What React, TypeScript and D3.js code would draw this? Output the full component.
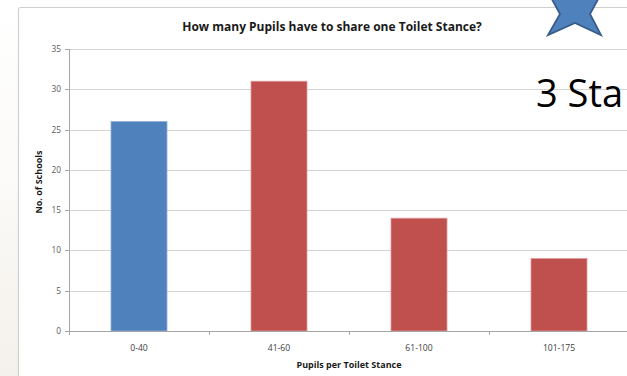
import React from "react";
import * as d3 from "d3";

const categories = ["0-40", "41-60", "61-100", "101-175"];
const schools = [26, 31, 14, 9];
const barColors = ["#4f81bd", "#c0504d", "#c0504d", "#c0504d"];
const yTicks = [0, 5, 10, 15, 20, 25, 30, 35];
const title = "How many Pupils have to share one Toilet Stance?";
const xTitle = "Pupils per Toilet Stance";
const yTitle = "No. of Schools";
const sideText = "3 Sta";

const W = 627;
const H = 376;
const FONT = "'Open Sans', 'DejaVu Sans', sans-serif";

export default function App() {
  const x = d3.scaleBand<string>().domain(categories).range([69, 629]).padding(0);
  const y = d3.scaleLinear().domain([0, 35]).range([331, 49]);
  const barW = x.bandwidth() / 2.5;

  // decorative star (partially cropped at top)
  const scx = 575;
  const starPts: [number, number][] = [
    [scx - 27, -8],
    [scx - 15, 14],
    [scx - 27, 35],
    [scx, 23],
    [scx + 26, 35],
    [scx + 15, 14],
    [scx + 27, -8],
  ];
  const starPath = d3.line()(starPts) + "Z";

  return (
    <div style={{ position: "fixed", left: 0, top: 0, width: W, height: H, background: "#fff" }}>
      <svg width={W} height={H} style={{ display: "block" }}>
        <defs>
          <linearGradient id="bgside" x1="0" y1="0" x2="0" y2="1">
            <stop offset="0" stopColor="#ffffff" />
            <stop offset="0.5" stopColor="#fbfaf8" />
            <stop offset="1" stopColor="#f4f0ea" />
          </linearGradient>
        </defs>
        <rect x={0} y={0} width={W} height={H} fill="#ffffff" />
        <rect x={0} y={0} width={18} height={H} fill="url(#bgside)" />
        {/* chart frame */}
        <rect x={18.5} y={7.5} width={W + 20} height={H + 20} fill="#ffffff" stroke="#cfcfcf" strokeWidth={1.2} rx={2} />

        {/* gridlines */}
        {yTicks.map((t) => (
          <line key={"g" + t} x1={69} x2={W} y1={Math.round(y(t)) + 0.5} y2={Math.round(y(t)) + 0.5} stroke="#d4d4d4" strokeWidth={1} />
        ))}

        {/* bars */}
        {categories.map((c, i) => {
          const cx = (x(c) as number) + x.bandwidth() / 2;
          return (
            <rect
              key={c}
              x={cx - barW / 2}
              y={y(schools[i])}
              width={barW}
              height={y(0) - y(schools[i])}
              fill={barColors[i]}
              stroke={i === 0 ? "#8fb0d8" : "#dc9a98"}
              strokeWidth={0.8}
            />
          );
        })}

        {/* y axis */}
        <line x1={69.5} x2={69.5} y1={y(35)} y2={y(0)} stroke="#a6a6a6" strokeWidth={1} />
        {yTicks.map((t) => (
          <g key={"yt" + t}>
            <line x1={65} x2={69.5} y1={Math.round(y(t)) + 0.5} y2={Math.round(y(t)) + 0.5} stroke="#a6a6a6" />
            <text x={61} y={y(t) + 3} textAnchor="end" fontFamily={FONT} fontSize={8.3} fill="#595959">
              {t}
            </text>
          </g>
        ))}

        {/* x axis */}
        <line x1={69} x2={W} y1={Math.round(y(0)) + 0.5} y2={Math.round(y(0)) + 0.5} stroke="#a6a6a6" />
        {categories.map((c) => (
          <line key={"xt" + c} x1={(x(c) as number) + 0.5} x2={(x(c) as number) + 0.5} y1={y(0)} y2={y(0) + 4} stroke="#a6a6a6" />
        ))}
        {categories.map((c) => (
          <text
            key={"xl" + c}
            x={(x(c) as number) + x.bandwidth() / 2}
            y={350.5}
            textAnchor="middle"
            fontFamily={FONT}
            fontSize={8.6}
            fill="#404040"
          >
            {c}
          </text>
        ))}

        {/* axis titles */}
        <text x={349} y={368} textAnchor="middle" fontFamily={FONT} fontSize={9} fontWeight={700} fill="#1a1a1a">
          {xTitle}
        </text>
        <text
          transform={`translate(42,182) rotate(-90)`}
          textAnchor="middle"
          fontFamily={FONT}
          fontSize={9}
          fontWeight={700}
          fill="#1a1a1a"
        >
          {yTitle}
        </text>

        {/* title */}
        <text x={332} y={31} textAnchor="middle" fontFamily={FONT} fontSize={12} fontWeight={700} fill="#1a1a1a">
          {title}
        </text>

        {/* side text from slide */}
        <text x={536} y={107} fontFamily={FONT} fontSize={38} fill="#000000">
          {sideText}
        </text>

        {/* star */}
        <path d={starPath} fill="#4f81bd" stroke="#385d8a" strokeWidth={1.8} strokeLinejoin="miter" />
      </svg>
    </div>
  );
}
